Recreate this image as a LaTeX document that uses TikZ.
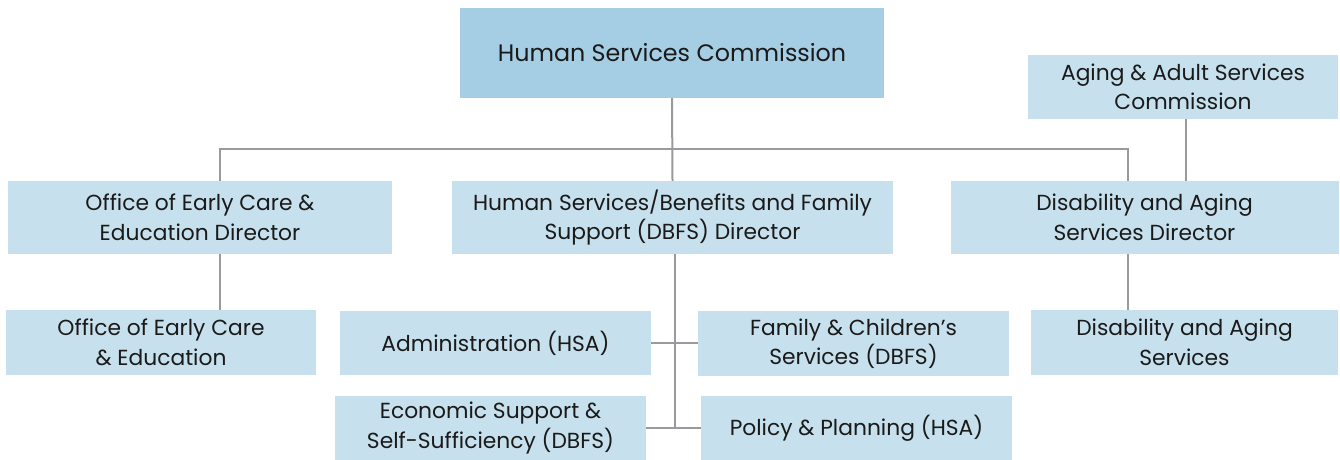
\documentclass[tikz,border=0pt]{standalone}
\usepackage{fontspec}
\setmainfont{Poppins}
\definecolor{topblue}{HTML}{A5CDE3}
\definecolor{boxblue}{HTML}{C7E0ED}
\definecolor{linegray}{HTML}{9A9A9E}
\definecolor{txt}{HTML}{1A1A1A}
\begin{document}
\begin{tikzpicture}[x=1pt,y=-1pt,
  box/.style={fill=boxblue,draw=none,align=center,text=txt,inner sep=0pt,
    font=\fontsize{21.8}{29.5}\selectfont},
  conn/.style={draw=linegray,line width=2pt}]
\useasboundingbox (0,0) rectangle (1340,460);
\node[box,fill=topblue,minimum width=424pt,minimum height=90pt,font=\fontsize{23.8}{29}\selectfont] (top) at (672,53) {Human Services Commission};
\node[box,minimum width=310pt,minimum height=64pt] (aging) at (1183,87) {Aging \& Adult Services\\Commission};
\node[box,minimum width=384pt,minimum height=73pt] (oecd) at (200,217.5) {Office of Early Care \&\\Education Director};
\node[box,minimum width=441pt,minimum height=73pt] (dbfs) at (672.5,217.5) {Human Services/Benefits and Family\\Support (DBFS) Director};
\node[box,minimum width=388pt,minimum height=73pt] (dasd) at (1144.5,217.5) {Disability and Aging\\Services Director};
\node[box,minimum width=310pt,minimum height=65pt] (oece) at (161,342.5) {Office of Early Care\\\& Education};
\node[box,minimum width=311pt,minimum height=64pt] (admin) at (495.5,343) {Administration (HSA)};
\node[box,minimum width=311pt,minimum height=65pt] (fcs) at (853.5,343.5) {Family \& Children’s\\Services (DBFS)};
\node[box,minimum width=307pt,minimum height=65pt] (das) at (1184.5,342.5) {Disability and Aging\\Services};
\node[box,minimum width=311pt,minimum height=64pt] (econ) at (490.5,428) {Economic Support \&\\Self-Sufficiency (DBFS)};
\node[box,minimum width=311pt,minimum height=64pt] (policy) at (856.5,428) {Policy \& Planning (HSA)};
\coordinate (busL) at (220,149);
\coordinate (busR) at (1128,149);
\coordinate (spine) at (675,0);
\coordinate (agx) at (1186,0);
\draw[conn] (top.south) -- (dbfs.north);
\draw[conn] (oecd.north -| busL) -- (busL) -- (busR) -- (dasd.north -| busR);
\draw[conn] (aging.south -| agx) -- (dasd.north -| agx);
\draw[conn] (oecd.south -| busL) -- (oece.north -| busL);
\draw[conn] (dasd.south -| busR) -- (das.north -| busR);
\draw[conn] (dbfs.south -| spine) -- (econ.east -| spine);
\draw[conn] (admin.east) -- (fcs.west |- admin.east);
\draw[conn] (econ.east) -- (policy.west);
\end{tikzpicture}
\end{document}
